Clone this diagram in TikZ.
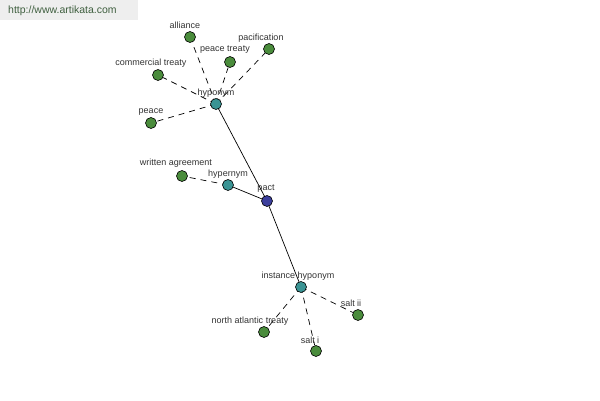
\documentclass[tikz,border=0pt]{standalone}
\usepackage{fontspec}
\setmainfont{Liberation Sans}
\usetikzlibrary{backgrounds}
\definecolor{leafgreen}{HTML}{4A8C3C}
\definecolor{relteal}{HTML}{3A9494}
\definecolor{rootblue}{HTML}{3C3F9C}
\definecolor{wmgray}{HTML}{EEEEEE}
\definecolor{wmtext}{HTML}{3F5F3F}
\definecolor{labgray}{HTML}{333333}
\begin{document}
\begin{tikzpicture}[x=1pt,y=-1pt,
  dot/.style={circle,draw=black,line width=0.6pt,minimum size=11pt,inner sep=0pt},
  leaf/.style={dot,fill=leafgreen},
  rel/.style={dot,fill=relteal},
  root/.style={dot,fill=rootblue},
  lab/.style={font=\fontsize{9}{10}\selectfont,text=labgray,inner sep=0pt},
  solidlink/.style={draw=black,line width=0.7pt},
  dashlink/.style={draw=black,line width=0.7pt,dash pattern=on 6pt off 5pt}]
\useasboundingbox (0,0) rectangle (600,400);
\fill[wmgray] (0,0) rectangle (138,20);
\node[font=\fontsize{10.5}{11}\selectfont,text=wmtext,anchor=west,inner sep=0pt] (wm) at (8,11) {http://www.artikata.com};

\node[root] (pact) at (267,201) {};
\node[rel] (hypo) at (216,104) {};
\node[rel] (hyper) at (228,185) {};
\node[rel] (inst) at (301,287) {};
\node[leaf] (alliance) at (190,37) {};
\node[leaf] (ptreaty) at (230,62) {};
\node[leaf] (pacif) at (269,49) {};
\node[leaf] (comm) at (158,75) {};
\node[leaf] (peace) at (151,123) {};
\node[leaf] (written) at (182,176) {};
\node[leaf] (nat) at (264,332) {};
\node[leaf] (salti) at (316,351) {};
\node[leaf] (saltii) at (358,315) {};

\begin{scope}[on background layer]
\draw[solidlink] (pact.center) -- (hypo.center);
\draw[solidlink] (pact.center) -- (hyper.center);
\draw[solidlink] (pact.center) -- (inst.center);
\draw[dashlink] (hypo.center) -- (alliance);
\draw[dashlink] (hypo.center) -- (ptreaty);
\draw[dashlink] (hypo.center) -- (pacif);
\draw[dashlink] (hypo.center) -- (comm);
\draw[dashlink] (hypo.center) -- (peace);
\draw[dashlink] (hyper.center) -- (written);
\draw[dashlink] (inst.center) -- (nat);
\draw[dashlink] (inst.center) -- (salti);
\draw[dashlink] (inst.center) -- (saltii);
\end{scope}

\node[lab] (lalliance) at (185,25) {alliance};
\node[lab] (lptreaty) at (225,50) {peace treaty};
\node[lab] (lpacif) at (261,38) {pacification};
\node[lab] (lcomm) at (151,63) {commercial treaty};
\node[lab] (lpeace) at (151,112) {peace};
\node[lab] (lhypo) at (216,93) {hyponym};
\node[lab] (lwritten) at (176,163) {written agreement};
\node[lab] (lhyper) at (228,174) {hypernym};
\node[lab] (lpact) at (266,189) {pact};
\node[lab] (linst) at (298,276) {instance hyponym};
\node[lab] (lnat) at (250,321) {north atlantic treaty};
\node[lab] (lsalti) at (310,340) {salt i};
\node[lab] (lsaltii) at (351,303) {salt ii};
\end{tikzpicture}
\end{document}
